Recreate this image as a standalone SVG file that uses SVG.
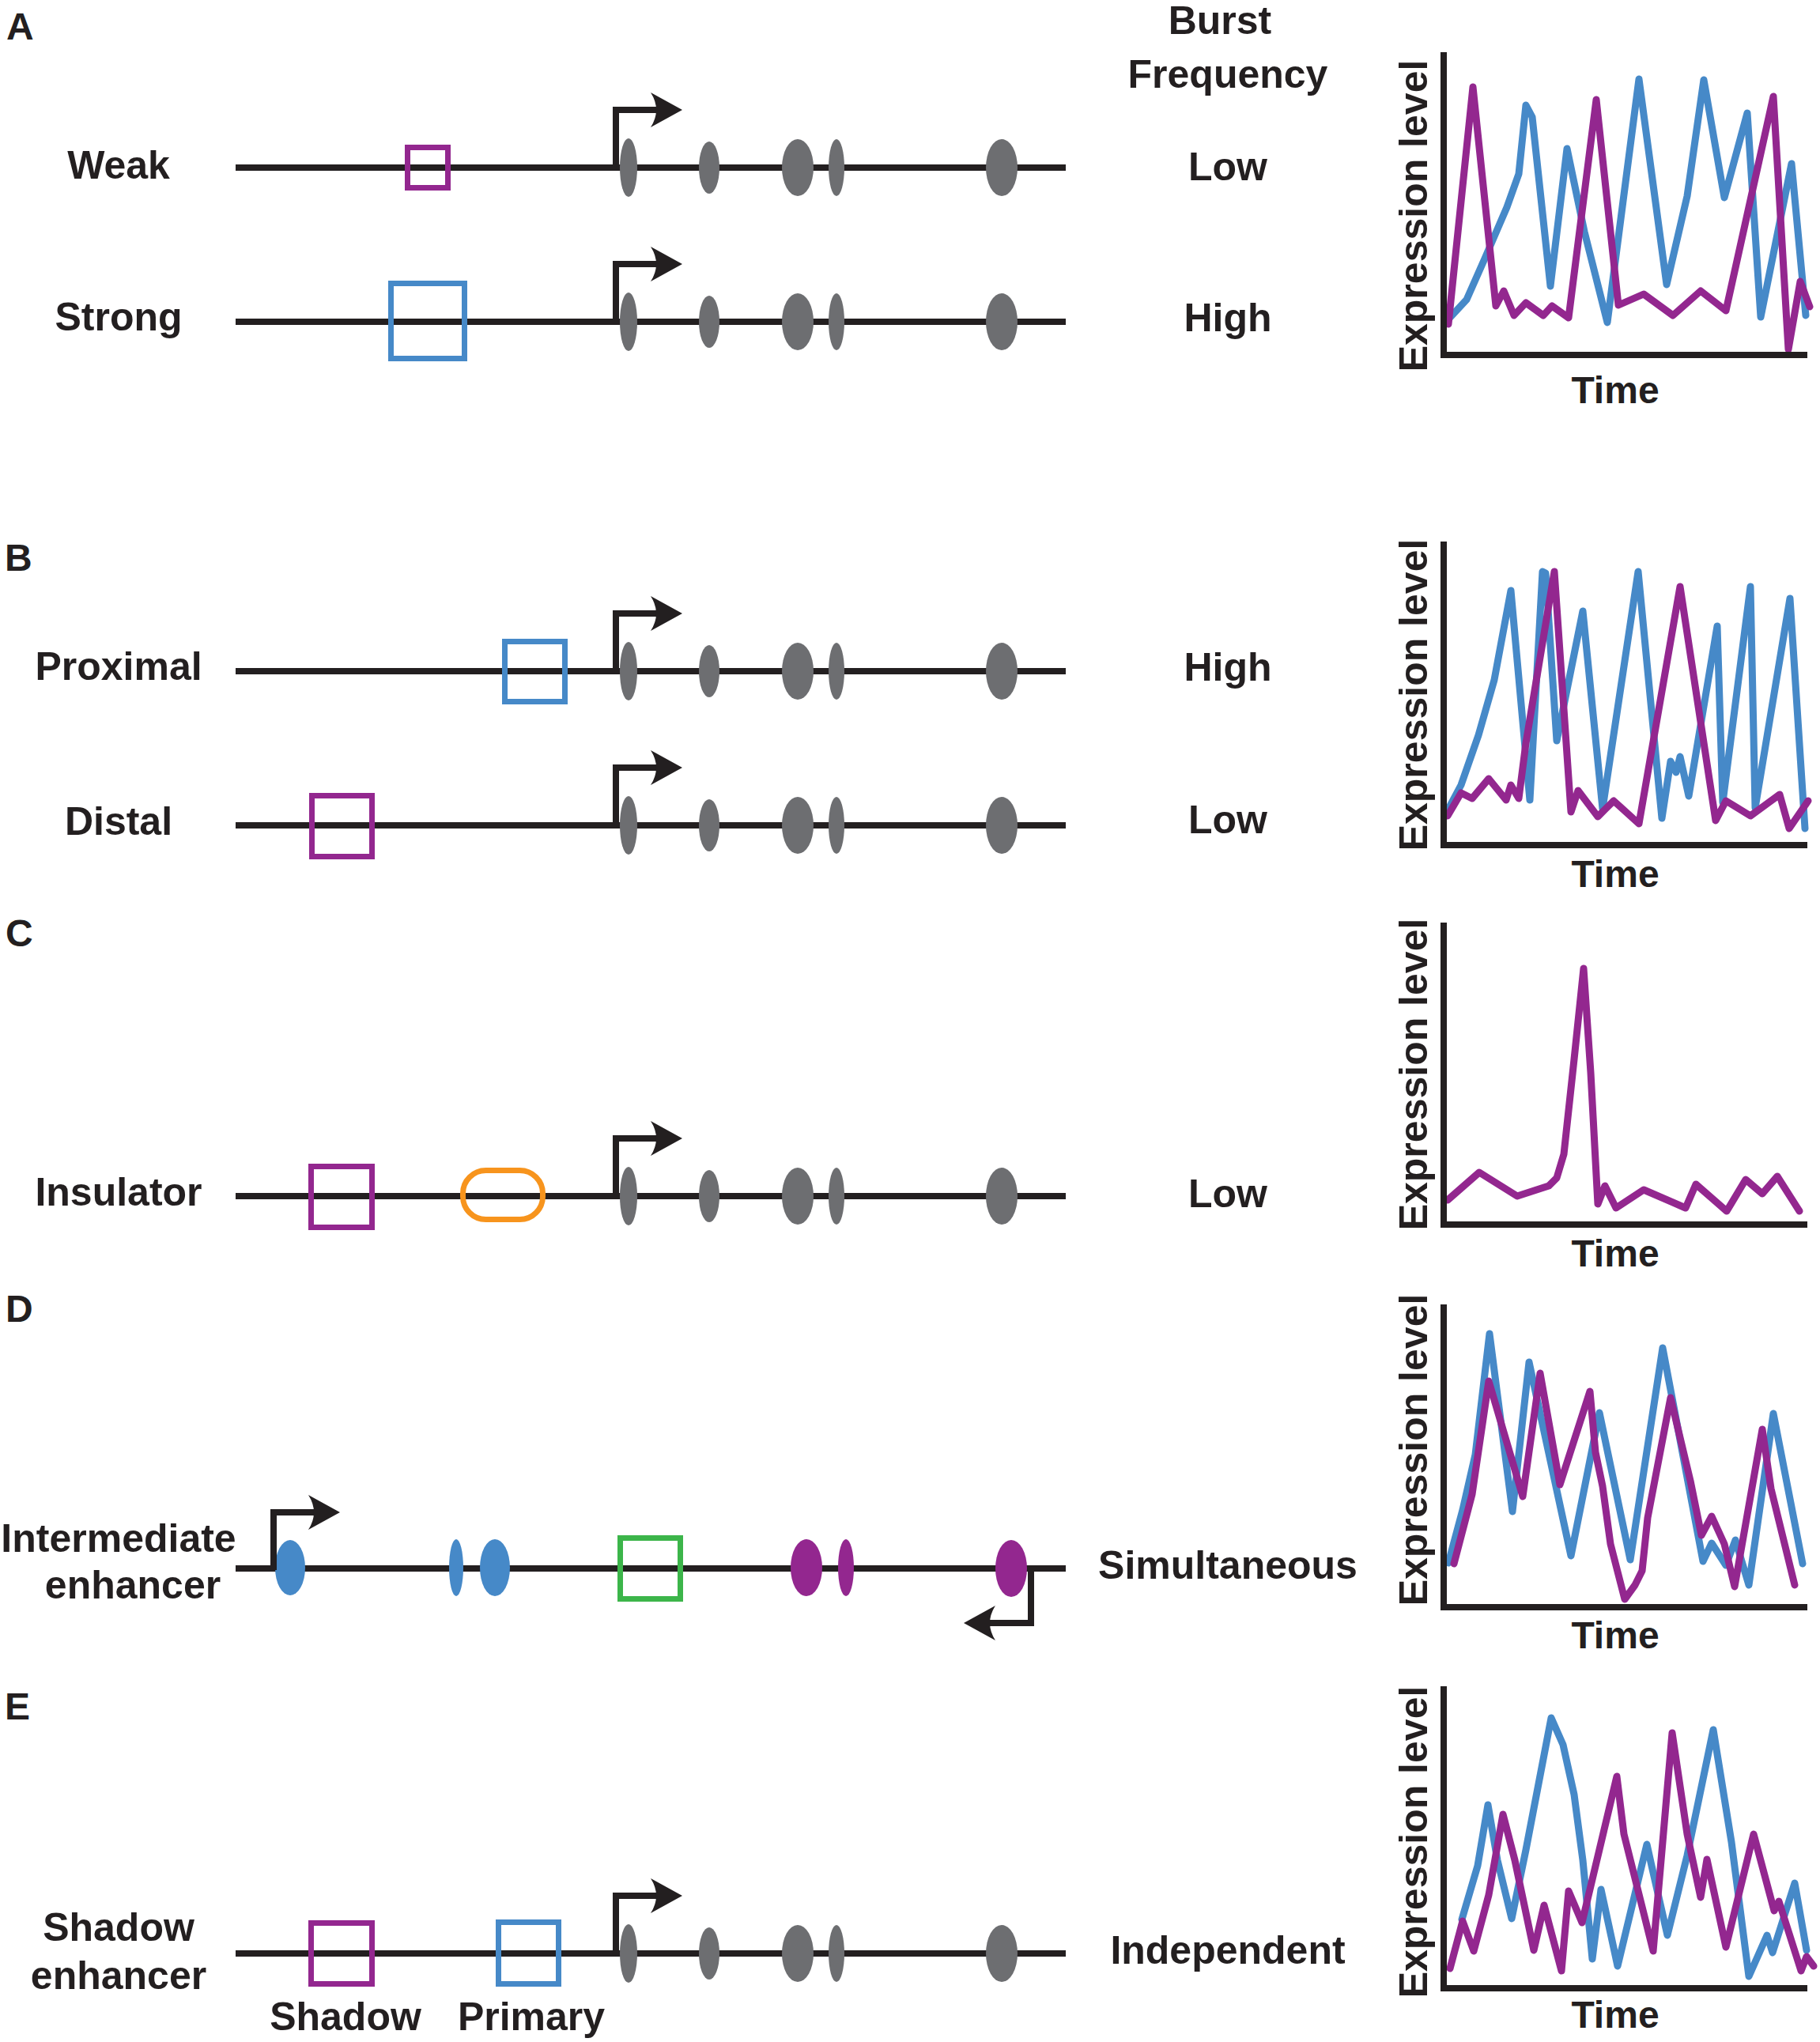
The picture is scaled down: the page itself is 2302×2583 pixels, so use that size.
<svg xmlns="http://www.w3.org/2000/svg" xmlns:xlink="http://www.w3.org/1999/xlink" width="2302" height="2583" viewBox="0 0 2302 2583">
<style>
text{font-family:"Liberation Sans",Arial,sans-serif;font-weight:bold;fill:#231f20}
.lab{font-size:50px;text-anchor:middle}
.pl{font-size:48px}
.ax{font-size:50px;text-anchor:middle}
.tm{font-size:48px;text-anchor:middle}
.dna{stroke:#231f20;stroke-width:8;fill:none}
.box{fill:none;stroke-width:7}
.pu{stroke:#93278f}
.bl{stroke:#4689c8}
.axis{stroke:#231f20;stroke-width:8;fill:none}
.tr{fill:none;stroke-width:9;stroke-linejoin:round;stroke-linecap:round}
.stem{fill:none;stroke:#231f20;stroke-width:8;stroke-linejoin:miter}
</style>
<defs>
<g id="prom">
<path class="stem" d="M0,0 V-73 H52"/>
<path d="M84,-73 L44,-95 Q58,-73 44,-51 Z" fill="#231f20"/>
</g>
<g id="exons" fill="#6d6e71">
<ellipse cx="795" cy="0" rx="11" ry="37"/>
<ellipse cx="897" cy="0" rx="13" ry="33"/>
<ellipse cx="1009" cy="0" rx="20" ry="36"/>
<ellipse cx="1058" cy="0" rx="10" ry="36"/>
<ellipse cx="1267" cy="0" rx="20" ry="36"/>
</g>
</defs>

<!-- Panel letters -->
<g id="panel-letters">
<text class="pl" x="8" y="50">A</text>
<text class="pl" x="6" y="722">B</text>
<text class="pl" x="7" y="1197">C</text>
<text class="pl" x="7" y="1672">D</text>
<text class="pl" x="6" y="2175">E</text>
</g>

<!-- Burst frequency column -->
<g id="burst-header">
<text class="lab" x="1543" y="43">Burst</text>
<text class="lab" x="1553" y="111">Frequency</text>
</g>

<!-- Panel A -->
<g id="A-weak">
<text class="lab" x="150" y="226">Weak</text>
<line class="dna" x1="298" y1="212" x2="1348" y2="212"/>
<use xlink:href="#exons" y="212"/>
<rect class="box pu" x="515.5" y="186.5" width="51" height="51"/>
<use xlink:href="#prom" x="779" y="212"/>
<text class="lab" x="1553" y="228">Low</text>
</g>
<g id="A-strong">
<text class="lab" x="150" y="418">Strong</text>
<line class="dna" x1="298" y1="407" x2="1348" y2="407"/>
<use xlink:href="#exons" y="407"/>
<rect class="box bl" x="494.5" y="358.5" width="93" height="95"/>
<use xlink:href="#prom" x="779" y="407"/>
<text class="lab" x="1553" y="419">High</text>
</g>
<g id="A-graph">
<polyline class="tr" stroke="#4689c8" points="1830,406 1855,379 1878,327 1906,262 1921,220 1930,133 1938,148 1961,362 1982,188 2004,293 2033,408 2073,100 2108,360 2134,248 2155,101 2181,250 2210,143 2227,401 2266,207 2284,399"/>
<polyline class="tr" stroke="#93278f" points="1832,410 1863,110 1892,387 1902,368 1915,399 1930,383 1952,399 1963,387 1984,402 2019,126 2047,386 2079,372 2116,399 2151,368 2183,393 2243,122 2262,442 2277,356 2289,388"/>
<path class="axis" d="M1826,66 V449 H2286"/>
<text class="ax" transform="translate(1805,273) rotate(-90)">Expression level</text>
<text class="tm" x="2043" y="510">Time</text>
</g>

<!-- Panel B -->
<g id="B-proximal">
<text class="lab" x="150" y="860">Proximal</text>
<line class="dna" x1="298" y1="849" x2="1348" y2="849"/>
<use xlink:href="#exons" y="849"/>
<rect class="box bl" x="638.5" y="811.5" width="76" height="76"/>
<use xlink:href="#prom" x="779" y="849"/>
<text class="lab" x="1553" y="861">High</text>
</g>
<g id="B-distal">
<text class="lab" x="150" y="1056">Distal</text>
<line class="dna" x1="298" y1="1044" x2="1348" y2="1044"/>
<use xlink:href="#exons" y="1044"/>
<rect class="box pu" x="394.5" y="1006.5" width="76" height="77"/>
<use xlink:href="#prom" x="779" y="1044"/>
<text class="lab" x="1553" y="1054">Low</text>
</g>
<g id="B-graph">
<polyline class="tr" stroke="#4689c8" points="1830,1027 1848,993 1870,930 1890,860 1911,747 1935,1012 1951,723 1955,725 1969,937 2002,773 2027,1023 2072,723 2102,1035 2113,963 2120,977 2125,957 2136,1007 2172,792 2179,1015 2214,742 2220,1022 2264,757 2283,1048"/>
<polyline class="tr" stroke="#93278f" points="1831,1032 1848,1003 1862,1010 1883,985 1905,1012 1911,993 1921,1010 1930,940 1966,723 1987,1027 1996,1000 2021,1033 2041,1013 2073,1042 2125,742 2170,1038 2183,1013 2214,1032 2251,1005 2263,1048 2287,1013"/>
<path class="axis" d="M1826,685 V1069 H2286"/>
<text class="ax" transform="translate(1805,879) rotate(-90)">Expression level</text>
<text class="tm" x="2043" y="1122">Time</text>
</g>

<!-- Panel C -->
<g id="C-insulator">
<text class="lab" x="150" y="1525">Insulator</text>
<line class="dna" x1="298" y1="1513" x2="1348" y2="1513"/>
<use xlink:href="#exons" y="1513"/>
<rect class="box pu" x="393.5" y="1475.5" width="77" height="77"/>
<rect class="box" stroke="#f7941d" x="585.5" y="1480.5" width="101" height="62" rx="29" ry="29"/>
<use xlink:href="#prom" x="779" y="1513"/>
<text class="lab" x="1553" y="1527">Low</text>
</g>
<g id="C-graph">
<polyline class="tr" stroke="#93278f" points="1831,1518 1871,1483 1919,1513 1959,1500 1969,1490 1978,1460 1991,1340 2003,1225 2012,1357 2021,1523 2030,1500 2044,1528 2079,1505 2132,1528 2145,1498 2184,1532 2208,1492 2229,1510 2248,1488 2276,1532"/>
<path class="axis" d="M1826,1167 V1549 H2286"/>
<text class="ax" transform="translate(1805,1359) rotate(-90)">Expression level</text>
<text class="tm" x="2043" y="1602">Time</text>
</g>

<!-- Panel D -->
<g id="D-intermediate">
<text class="lab" x="150" y="1963">Intermediate</text>
<text class="lab" x="168" y="2022">enhancer</text>
<line class="dna" x1="298" y1="1984" x2="1348" y2="1984"/>
<g fill="#4689c8">
<ellipse cx="367" cy="1983" rx="19" ry="35"/>
<ellipse cx="577" cy="1983" rx="9" ry="36"/>
<ellipse cx="626" cy="1983" rx="19" ry="36"/>
</g>
<g fill="#93278f">
<ellipse cx="1020" cy="1983" rx="20" ry="36"/>
<ellipse cx="1070" cy="1983" rx="10" ry="36"/>
<ellipse cx="1279" cy="1984" rx="20" ry="36"/>
</g>
<rect class="box" stroke="#3cb54a" x="784.5" y="1945.5" width="76" height="77"/>
<use xlink:href="#prom" x="346" y="1986"/>
<path class="stem" d="M1304,1984 V2053 H1252"/>
<path d="M1219,2053 L1259,2031 Q1245,2053 1259,2075 Z" fill="#231f20"/>
<text class="lab" x="1553" y="1997">Simultaneous</text>
</g>
<g id="D-graph">
<polyline class="tr" stroke="#4689c8" points="1832,1977 1850,1910 1866,1840 1884,1687 1913,1912 1934,1723 1987,1968 2023,1787 2062,1973 2103,1705 2154,1975 2165,1952 2183,1980 2195,1948 2212,2005 2243,1788 2280,1978"/>
<polyline class="tr" stroke="#93278f" points="1839,1978 1862,1890 1883,1747 1926,1893 1948,1737 1973,1878 2011,1760 2018,1837 2027,1880 2037,1953 2055,2023 2068,2005 2077,1987 2084,1920 2113,1768 2138,1873 2152,1942 2165,1918 2181,1953 2194,2007 2229,1808 2240,1883 2270,2005"/>
<path class="axis" d="M1826,1650 V2033 H2286"/>
<text class="ax" transform="translate(1805,1834) rotate(-90)">Expression level</text>
<text class="tm" x="2043" y="2085">Time</text>
</g>

<!-- Panel E -->
<g id="E-shadow">
<text class="lab" x="150" y="2455">Shadow</text>
<text class="lab" x="150" y="2516">enhancer</text>
<line class="dna" x1="298" y1="2471" x2="1348" y2="2471"/>
<use xlink:href="#exons" y="2471"/>
<rect class="box pu" x="393.5" y="2432.5" width="77" height="77"/>
<rect class="box bl" x="630.5" y="2431.5" width="76" height="78"/>
<use xlink:href="#prom" x="779" y="2471"/>
<text class="lab" x="437" y="2568">Shadow</text>
<text class="lab" x="672" y="2568">Primary</text>
<text class="lab" x="1553" y="2484">Independent</text>
</g>
<g id="E-graph">
<polyline class="tr" stroke="#4689c8" points="1849,2428 1869,2360 1882,2283 1894,2353 1912,2427 1930,2340 1962,2173 1977,2207 1991,2270 2002,2353 2014,2478 2025,2390 2046,2487 2083,2333 2089,2360 2109,2448 2134,2347 2167,2188 2190,2330 2212,2500 2235,2448 2242,2470 2270,2382 2285,2467"/>
<polyline class="tr" stroke="#93278f" points="1834,2490 1850,2430 1864,2468 1883,2397 1901,2295 1916,2353 1940,2467 1953,2410 1975,2493 1984,2392 2001,2432 2045,2247 2054,2320 2091,2468 2115,2192 2134,2320 2151,2400 2159,2352 2183,2463 2218,2320 2244,2417 2250,2405 2278,2493 2285,2475 2294,2487"/>
<path class="axis" d="M1826,2133 V2515 H2286"/>
<text class="ax" transform="translate(1805,2330) rotate(-90)">Expression level</text>
<text class="tm" x="2043" y="2565">Time</text>
</g>
</svg>
